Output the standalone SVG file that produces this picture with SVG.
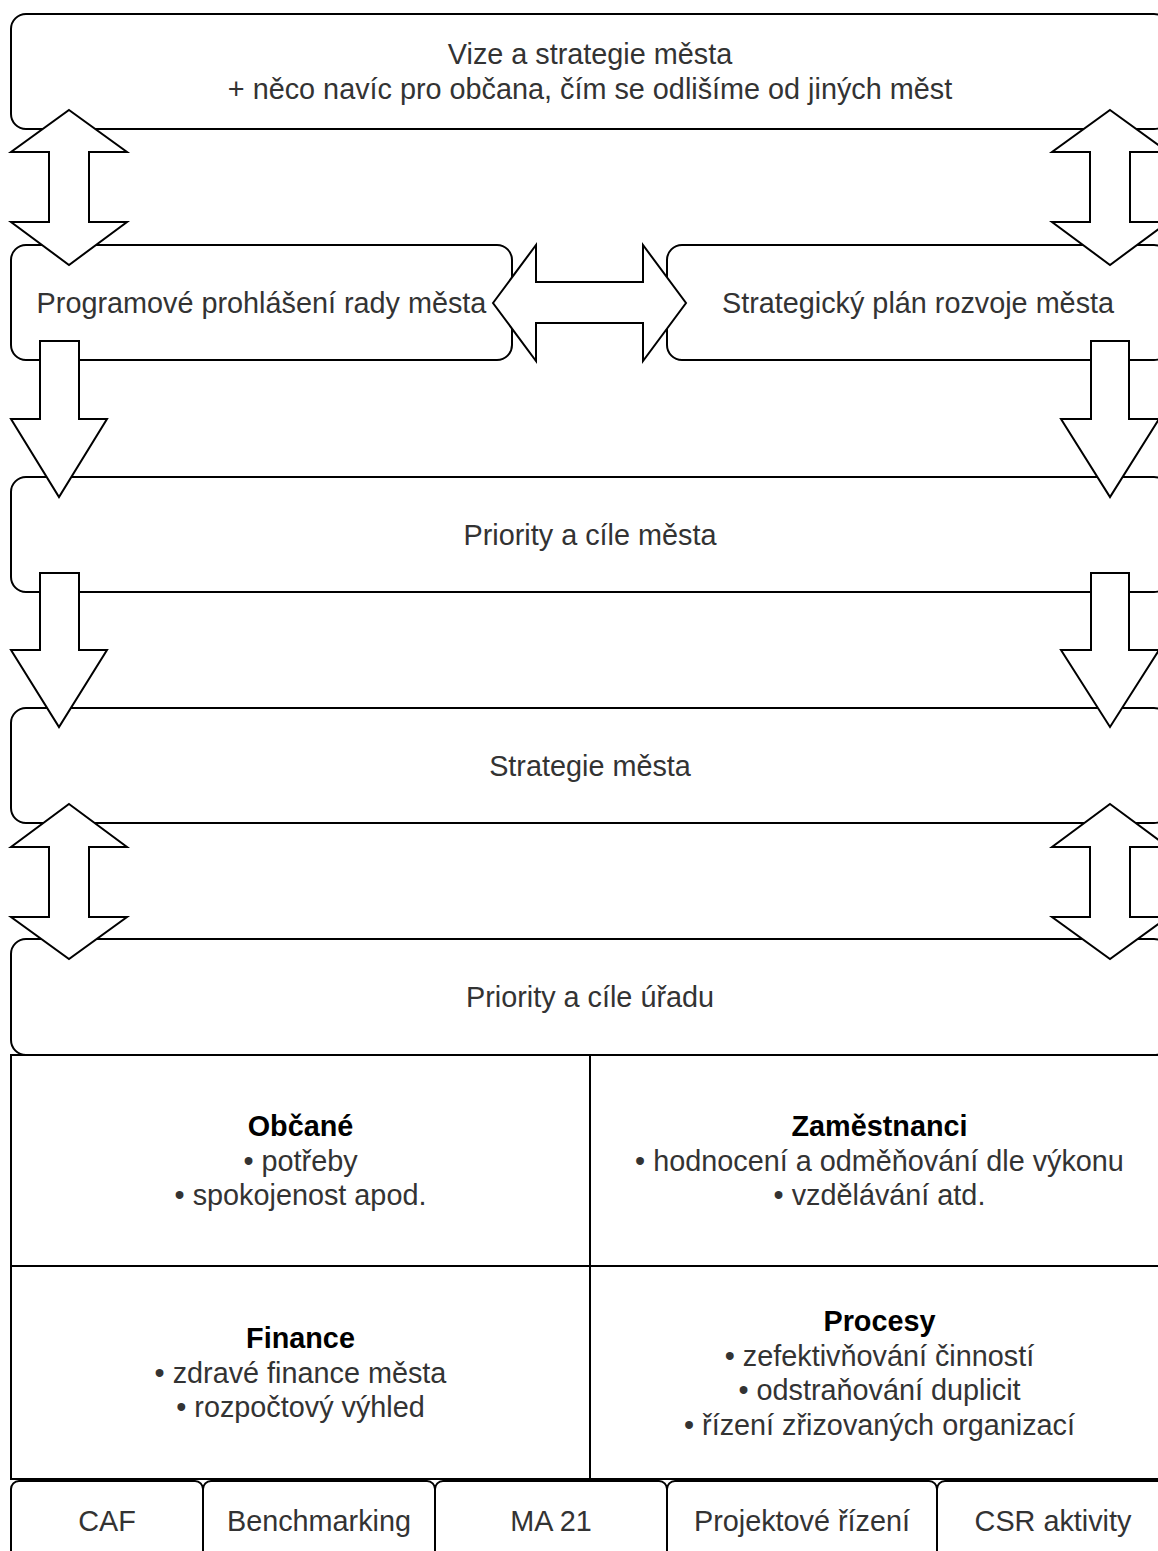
<svg xmlns="http://www.w3.org/2000/svg" width="1158" height="1551" viewBox="0 0 1158 1551">
<style>
.box{fill:#fff;stroke:#000;stroke-width:2}
.arr{fill:#fff;stroke:#000;stroke-width:2;stroke-linejoin:miter}
text{font-family:"Liberation Sans",Arial,sans-serif;font-size:28.8px;fill:#333;text-anchor:middle}
.b{font-weight:bold;fill:#000}
</style>
<rect x="0" y="0" width="1158" height="1551" fill="#fff"/>
<g id="node-vize">
<rect class="box" x="11" y="14" width="1158" height="115" rx="15"/>
<text x="590" y="64">Vize a strategie města</text>
<text x="590" y="99">+ něco navíc pro občana, čím se odlišíme od jiných měst</text>
</g>
<g id="node-programove">
<rect class="box" x="11" y="245" width="501" height="115" rx="15"/>
<text x="261.5" y="313">Programové prohlášení rady města</text>
</g>
<g id="node-strategicky">
<rect class="box" x="667" y="245" width="502" height="115" rx="15"/>
<text x="918" y="313">Strategický plán rozvoje města</text>
</g>
<g id="node-priority-mesta">
<rect class="box" x="11" y="477" width="1158" height="115" rx="15"/>
<text x="590" y="545">Priority a cíle města</text>
</g>
<g id="node-strategie">
<rect class="box" x="11" y="708" width="1158" height="115" rx="15"/>
<text x="590" y="776">Strategie města</text>
</g>
<g id="node-priority-uradu">
<rect class="box" x="11" y="939" width="1158" height="116" rx="15"/>
<text x="590" y="1007">Priority a cíle úřadu</text>
</g>
<g id="node-obcane">
<rect class="box" x="11" y="1055" width="579" height="211"/>
<text class="b" x="300.5" y="1136">Občané</text>
<text x="300.5" y="1171">• potřeby</text>
<text x="300.5" y="1205">• spokojenost apod.</text>
</g>
<g id="node-zamestnanci">
<rect class="box" x="590" y="1055" width="579" height="211"/>
<text class="b" x="879.5" y="1136">Zaměstnanci</text>
<text x="879.5" y="1171">• hodnocení a odměňování dle výkonu</text>
<text x="879.5" y="1205">• vzdělávání atd.</text>
</g>
<g id="node-finance">
<rect class="box" x="11" y="1266" width="579" height="213"/>
<text class="b" x="300.5" y="1348">Finance</text>
<text x="300.5" y="1383">• zdravé finance města</text>
<text x="300.5" y="1417">• rozpočtový výhled</text>
</g>
<g id="node-procesy">
<rect class="box" x="590" y="1266" width="579" height="213"/>
<text class="b" x="879.5" y="1331">Procesy</text>
<text x="879.5" y="1366">• zefektivňování činností</text>
<text x="879.5" y="1400">• odstraňování duplicit</text>
<text x="879.5" y="1435">• řízení zřizovaných organizací</text>
</g>
<g id="node-caf">
<rect class="box" x="11" y="1481" width="192" height="80" rx="8"/>
<text x="107" y="1531">CAF</text>
</g>
<g id="node-benchmarking">
<rect class="box" x="203" y="1481" width="232" height="80" rx="8"/>
<text x="319" y="1531">Benchmarking</text>
</g>
<g id="node-ma21">
<rect class="box" x="435" y="1481" width="232" height="80" rx="8"/>
<text x="551" y="1531">MA 21</text>
</g>
<g id="node-projektove">
<rect class="box" x="667" y="1481" width="270" height="80" rx="8"/>
<text x="802" y="1531">Projektové řízení</text>
</g>
<g id="node-csr">
<rect class="box" x="937" y="1481" width="232" height="80" rx="8"/>
<text x="1053" y="1531">CSR aktivity</text>
</g>
<g id="connectors">
<polygon class="arr" points="69,110 127,152 89,152 89,222 127,222 69,265 11,222 49,222 49,152 11,152"/>
<polygon class="arr" points="1110,110 1168,152 1130,152 1130,222 1168,222 1110,265 1052,222 1090,222 1090,152 1052,152"/>
<polygon class="arr" points="493,303 536,245 536,282 643,282 643,245 686,303 643,361 643,323 536,323 536,361"/>
<polygon class="arr" points="40,341 79,341 79,419 107,419 59,497 11,419 40,419"/>
<polygon class="arr" points="1091,341 1129,341 1129,419 1159,419 1110,497 1061,419 1091,419"/>
<polygon class="arr" points="40,573 79,573 79,650 107,650 59,727 11,650 40,650"/>
<polygon class="arr" points="1091,573 1129,573 1129,650 1159,650 1110,727 1061,650 1091,650"/>
<polygon class="arr" points="69,804 127,847 89,847 89,917 127,917 69,959 11,917 49,917 49,847 11,847"/>
<polygon class="arr" points="1110,804 1168,847 1130,847 1130,917 1168,917 1110,959 1052,917 1090,917 1090,847 1052,847"/>
</g>
</svg>
